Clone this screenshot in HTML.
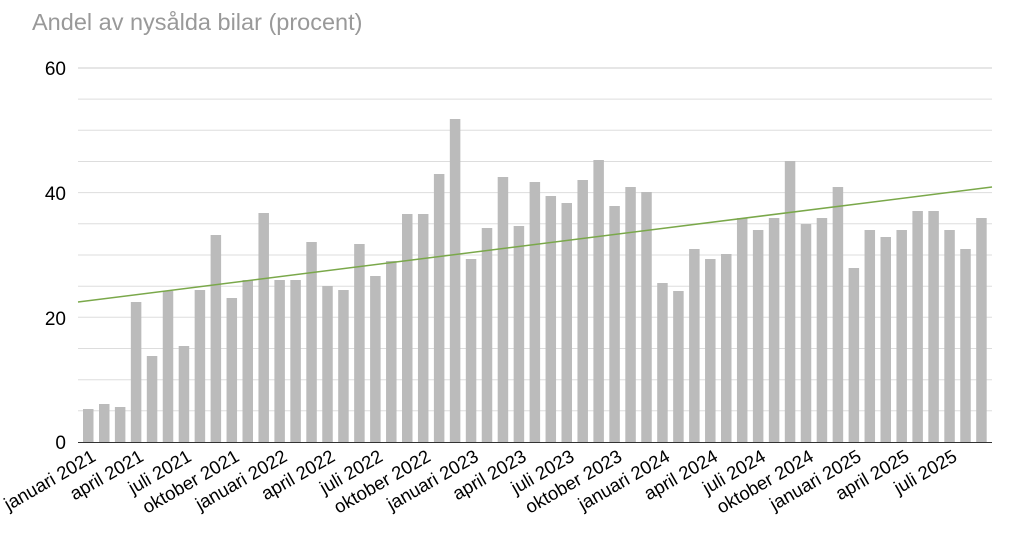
<!DOCTYPE html>
<html><head><meta charset="utf-8"><style>body{margin:0;background:#fff}svg{display:block}</style></head>
<body>
<svg width="1024" height="556" xmlns="http://www.w3.org/2000/svg" font-family="Liberation Sans, Arial, sans-serif">
<text x="32" y="30" font-size="23.5" fill="#999">Andel av nysålda bilar (procent)</text>
<g stroke="#ddd" stroke-width="1">
<line x1="78" x2="992" y1="410.8" y2="410.8"/><line x1="78" x2="992" y1="379.7" y2="379.7"/><line x1="78" x2="992" y1="348.5" y2="348.5"/><line x1="78" x2="992" y1="317.3" y2="317.3"/><line x1="78" x2="992" y1="286.2" y2="286.2"/><line x1="78" x2="992" y1="255" y2="255"/><line x1="78" x2="992" y1="223.8" y2="223.8"/><line x1="78" x2="992" y1="192.6" y2="192.6"/><line x1="78" x2="992" y1="161.5" y2="161.5"/><line x1="78" x2="992" y1="130.3" y2="130.3"/><line x1="78" x2="992" y1="99.1" y2="99.1"/><line x1="78" x2="992" y1="68" y2="68" stroke="#ccc"/>
</g>
<g fill="#bbb">
<rect x="83" y="409" width="10.5" height="33"/>
<rect x="99" y="404" width="10.5" height="38"/>
<rect x="114.9" y="407" width="10.5" height="35"/>
<rect x="130.85" y="302" width="10.5" height="140"/>
<rect x="146.8" y="356" width="10.5" height="86"/>
<rect x="162.75" y="291" width="10.5" height="151"/>
<rect x="178.7" y="346" width="10.5" height="96"/>
<rect x="194.65" y="290" width="10.5" height="152"/>
<rect x="210.6" y="235" width="10.5" height="207"/>
<rect x="226.55" y="298" width="10.5" height="144"/>
<rect x="242.5" y="280" width="10.5" height="162"/>
<rect x="258.45" y="213" width="10.5" height="229"/>
<rect x="274.4" y="280" width="10.5" height="162"/>
<rect x="290.35" y="280" width="10.5" height="162"/>
<rect x="306.3" y="242" width="10.5" height="200"/>
<rect x="322.25" y="286" width="10.5" height="156"/>
<rect x="338.2" y="290" width="10.5" height="152"/>
<rect x="354.15" y="244" width="10.5" height="198"/>
<rect x="370.1" y="276" width="10.5" height="166"/>
<rect x="386.05" y="261" width="10.5" height="181"/>
<rect x="402" y="214" width="10.5" height="228"/>
<rect x="417.95" y="214" width="10.5" height="228"/>
<rect x="433.9" y="174" width="10.5" height="268"/>
<rect x="449.85" y="119" width="10.5" height="323"/>
<rect x="465.8" y="259" width="10.5" height="183"/>
<rect x="481.75" y="228" width="10.5" height="214"/>
<rect x="497.7" y="177" width="10.5" height="265"/>
<rect x="513.65" y="226" width="10.5" height="216"/>
<rect x="529.6" y="182" width="10.5" height="260"/>
<rect x="545.55" y="196" width="10.5" height="246"/>
<rect x="561.5" y="203" width="10.5" height="239"/>
<rect x="577.45" y="180" width="10.5" height="262"/>
<rect x="593.4" y="160" width="10.5" height="282"/>
<rect x="609.35" y="206" width="10.5" height="236"/>
<rect x="625.3" y="187" width="10.5" height="255"/>
<rect x="641.25" y="192" width="10.5" height="250"/>
<rect x="657.2" y="283" width="10.5" height="159"/>
<rect x="673.15" y="291" width="10.5" height="151"/>
<rect x="689.1" y="249" width="10.5" height="193"/>
<rect x="705.05" y="259" width="10.5" height="183"/>
<rect x="721" y="254" width="10.5" height="188"/>
<rect x="736.95" y="218" width="10.5" height="224"/>
<rect x="752.9" y="230" width="10.5" height="212"/>
<rect x="768.85" y="218" width="10.5" height="224"/>
<rect x="784.8" y="161" width="10.5" height="281"/>
<rect x="800.75" y="224" width="10.5" height="218"/>
<rect x="816.7" y="218" width="10.5" height="224"/>
<rect x="832.65" y="187" width="10.5" height="255"/>
<rect x="848.6" y="268" width="10.5" height="174"/>
<rect x="864.55" y="230" width="10.5" height="212"/>
<rect x="880.5" y="237" width="10.5" height="205"/>
<rect x="896.45" y="230" width="10.5" height="212"/>
<rect x="912.4" y="211" width="10.5" height="231"/>
<rect x="928.35" y="211" width="10.5" height="231"/>
<rect x="944.3" y="230" width="10.5" height="212"/>
<rect x="960.25" y="249" width="10.5" height="193"/>
<rect x="976.2" y="218" width="10.5" height="224"/>
</g>
<line x1="78" y1="442.5" x2="992" y2="442.5" stroke="#333" stroke-width="1"/>
<line x1="78" y1="302" x2="992" y2="187" stroke="#7aa84a" stroke-width="1.5"/>
<g font-size="19" fill="#000" text-anchor="end">
<text x="66" y="75">60</text><text x="66" y="200">40</text><text x="66" y="325">20</text><text x="66" y="449">0</text>
</g>
<g font-size="18.5" fill="#000" text-anchor="end">
<text transform="translate(97,460) rotate(-30)">januari 2021</text>
<text transform="translate(144.85,460) rotate(-30)">april 2021</text>
<text transform="translate(192.7,460) rotate(-30)">juli 2021</text>
<text transform="translate(240.55,460) rotate(-30)">oktober 2021</text>
<text transform="translate(288.4,460) rotate(-30)">januari 2022</text>
<text transform="translate(336.25,460) rotate(-30)">april 2022</text>
<text transform="translate(384.1,460) rotate(-30)">juli 2022</text>
<text transform="translate(431.95,460) rotate(-30)">oktober 2022</text>
<text transform="translate(479.8,460) rotate(-30)">januari 2023</text>
<text transform="translate(527.65,460) rotate(-30)">april 2023</text>
<text transform="translate(575.5,460) rotate(-30)">juli 2023</text>
<text transform="translate(623.35,460) rotate(-30)">oktober 2023</text>
<text transform="translate(671.2,460) rotate(-30)">januari 2024</text>
<text transform="translate(719.05,460) rotate(-30)">april 2024</text>
<text transform="translate(766.9,460) rotate(-30)">juli 2024</text>
<text transform="translate(814.75,460) rotate(-30)">oktober 2024</text>
<text transform="translate(862.6,460) rotate(-30)">januari 2025</text>
<text transform="translate(910.45,460) rotate(-30)">april 2025</text>
<text transform="translate(958.3,460) rotate(-30)">juli 2025</text>
</g>
</svg>
</body></html>
